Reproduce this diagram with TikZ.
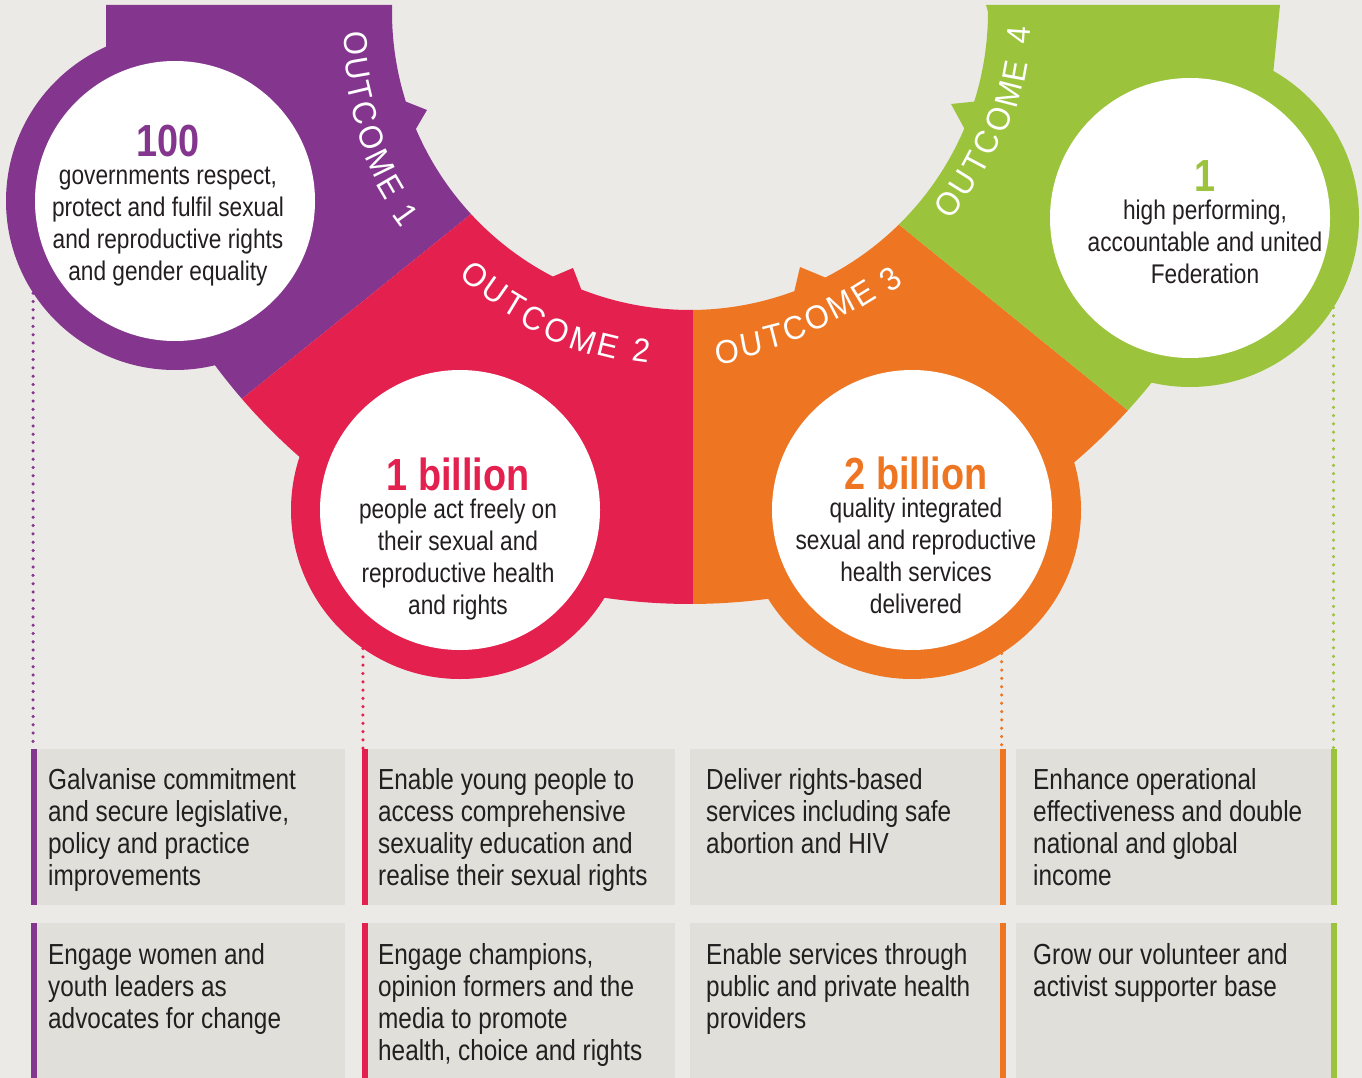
\documentclass[tikz,border=0pt]{standalone}
\usepackage{fontspec}
\setmainfont{Liberation Sans}[FakeStretch=0.84]
\newfontfamily\outfont{Liberation Sans}[FakeStretch=0.94]
\usetikzlibrary{calc,positioning}
\definecolor{purp}{RGB}{132,54,143}
\definecolor{redc}{RGB}{228,32,78}
\definecolor{orng}{RGB}{238,118,35}
\definecolor{grn}{RGB}{155,196,60}
\definecolor{bgc}{RGB}{236,234,230}
\definecolor{boxc}{RGB}{224,223,218}
\definecolor{ink}{RGB}{35,31,32}
\newcommand{\bignum}{\fontsize{45}{45}\selectfont\bfseries}

\begin{document}
\begin{tikzpicture}[x=1pt,y=-1pt,
	disc/.style={circle,inner sep=0pt,minimum size=338pt},
	hole/.style={circle,fill=white,inner sep=0pt,minimum size=280pt},
	circtext/.style={anchor=north,align=center,inner sep=0pt,text=ink,font=\fontsize{27}{32}\selectfont},
	aimbox/.style={anchor=north west,fill=boxc,inner sep=0pt,minimum height=156pt},
	aimtext/.style={anchor=north west,align=left,inner sep=0pt,text=ink,font=\fontsize{29}{32}\selectfont},
	outl/.style={text=white,inner sep=0pt,font=\outfont\fontsize{33}{33}\selectfont},
	dots/.style={line width=3.5pt,line cap=round,dash pattern=on 0pt off 8.3pt}]
		\useasboundingbox (0,0) rectangle (1362,1078);
		\fill[bgc] (0,0) rectangle (1362,1078);
		\coordinate (ctr) at (690,12);
		
		\fill[purp] (106,5) -- (392,5) -- ($(ctr)+(180:298)$) arc[start angle=180,end angle=162.5,radius=298] -- (427,110) -- ($(ctr)+(156.9:298)$) arc[start angle=156.9,end angle=137.3,radius=298] -- ($(ctr)+(139.2:592)$) arc[start angle=139.2,end angle=176,radius=592] -- (106,47) -- cycle;
		\fill[redc] ($(ctr)+(137.3:298)$) arc[start angle=137.3,end angle=117.4,radius=298] -- (573,268) -- ($(ctr)+(111.4:298)$) arc[start angle=111.4,end angle=89.4,radius=298] -- ($(ctr)+(89.7:592)$) arc[start angle=89.7,end angle=139.2,radius=592] -- cycle;
		\fill[orng] ($(ctr)+(89.4:298)$) arc[start angle=89.4,end angle=69.5,radius=298] -- (800,267) -- ($(ctr)+(63:298)$) arc[start angle=63,end angle=45.5,radius=298] -- ($(ctr)+(42.3:592)$) arc[start angle=42.3,end angle=89.7,radius=592] -- cycle;
		\fill[grn] ($(ctr)+(45.5:298)$) arc[start angle=45.5,end angle=23,radius=298] -- (951,104) -- ($(ctr)+(17.5:298)$) arc[start angle=17.5,end angle=0,radius=298] -- (986,5) -- (1280,5) -- (1273,75) -- ($(ctr)+(10:592)$) arc[start angle=10,end angle=42.3,radius=592] -- cycle;
		
		\node[disc,fill=purp] (pd) at (175,201) {};
		\node[disc,fill=redc] (rd) at (460,510) {};
		\node[disc,fill=orng] (od) at (912,510) {};
		\node[disc,fill=grn] (gd) at (1190,218) {};
		\node[hole] (pc) at (pd) {};
		\node[hole] (rc) at (rd) {};
		\node[hole] (oc) at (od) {};
		\node[hole] (gc) at (gd) {};
		
		\node[circtext] (pt) at (168,125) {{\bignum\color{purp}100}\\[-4pt]governments respect,\\protect and fulfil sexual\\and reproductive rights\\and gender equality};
		\node[circtext] (rt) at (458,458) {{\bignum\color{redc}1 billion}\\[-4pt]people act freely on\\their sexual and\\reproductive health\\and rights};
		\node[circtext] (ot) at (916,457) {{\bignum\color{orng}2 billion}\\[-4pt]quality integrated\\sexual and reproductive\\health services\\delivered};
		\node[circtext] (gt) at (1205,160) {{\bignum\color{grn}1}\\[-4pt]high performing,\\accountable and united\\Federation};
		
		\foreach \ch/\ang/\rad [count=\i] in {O/174.6/335.5,U/170.36/337.4,T/166.55/339.1,C/162.74/340.8,O/158.5/342.7,M/153.97/344.7,E/149.73/346.6,1/144.4/349}
			\node[outl,rotate=90-\ang] (oa\i) at ($(ctr)+(\ang:\rad)$) {\ch};
		\foreach \ch/\ang/\rad [count=\i] in {O/129.3/339.7,U/124.93/340.6,T/121.0/341.5,C/117.06/344.1,O/112.7/345.9,M/108.04/345.4,E/103.68/343.7,2/98.1/341.4}
			\node[outl,rotate=90-\ang] (ob\i) at ($(ctr)+(\ang:\rad)$) {\ch};
		\foreach \ch/\ang/\rad [count=\i] in {O/83.8/341.7,U/79.47/338,T/75.58/335.2,C/71.7/332.8,O/67.36/330.5,M/62.73/329.5,E/58.4/330,3/53.0/334}
			\node[outl,rotate=90-\ang] (oc\i) at ($(ctr)+(\ang:\rad)$) {\ch};
		\foreach \ch/\ang/\rad [count=\i] in {O/36.6/322,U/32.03/322,T/27.92/323,C/23.81/324.5,O/19.24/327,M/14.38/329,E/10.27/330,4/4.0/330}
			\node[outl,rotate=90-\ang] (od\i) at ($(ctr)+(\ang:\rad)$) {\ch};
		
		\node[aimbox,minimum width=314pt] (b1) at (31,749) {};
		\node[aimbox,minimum width=313pt] (b2) at (362,749) {};
		\node[aimbox,minimum width=316pt] (b3) at (690,749) {};
		\node[aimbox,minimum width=321pt] (b4) at (1016,749) {};
		\node[aimbox,minimum width=314pt,minimum height=155pt] (b5) at (31,923) {};
		\node[aimbox,minimum width=313pt,minimum height=155pt] (b6) at (362,923) {};
		\node[aimbox,minimum width=316pt,minimum height=155pt] (b7) at (690,923) {};
		\node[aimbox,minimum width=321pt,minimum height=155pt] (b8) at (1016,923) {};
		\fill[purp] (b1.north west) rectangle ([xshift=6pt]b1.south west);
		\fill[purp] (b5.north west) rectangle ([xshift=6pt]b5.south west);
		\fill[redc] (b2.north west) rectangle ([xshift=6pt]b2.south west);
		\fill[redc] (b6.north west) rectangle ([xshift=6pt]b6.south west);
		\fill[orng] ([xshift=-6pt]b3.north east) rectangle (b3.south east);
		\fill[orng] ([xshift=-6pt]b7.north east) rectangle (b7.south east);
		\fill[grn] ([xshift=-6pt]b4.north east) rectangle (b4.south east);
		\fill[grn] ([xshift=-6pt]b8.north east) rectangle (b8.south east);
		
		\node[aimtext] (t1) at (48,768) {Galvanise commitment\\and secure legislative,\\policy and practice\\improvements};
		\node[aimtext] (t2) at (378,768) {Enable young people to\\access comprehensive\\sexuality education and\\realise their sexual rights};
		\node[aimtext] (t3) at (706,768) {Deliver rights-based\\services including safe\\abortion and HIV};
		\node[aimtext] (t4) at (1033,768) {Enhance operational\\effectiveness and double\\national and global\\income};
		\node[aimtext] (t5) at (48,943) {Engage women and\\youth leaders as\\advocates for change};
		\node[aimtext] (t6) at (378,943) {Engage champions,\\opinion formers and the\\media to promote\\health, choice and rights};
		\node[aimtext] (t7) at (706,943) {Enable services through\\public and private health\\providers};
		\node[aimtext] (t8) at (1033,943) {Grow our volunteer and\\activist supporter base};
		
		\draw[dots,purp] (pd.213) -- (pd.213 |- b1.north);
		\draw[dots,redc] (rd.235.7) -- (rd.235.7 |- b2.north);
		\draw[dots,orng] (od.302.6) -- (od.302.6 |- b3.north);
		\draw[dots,grn] (gd.328.4) -- (gd.328.4 |- b4.north);
\end{tikzpicture}
\end{document}
